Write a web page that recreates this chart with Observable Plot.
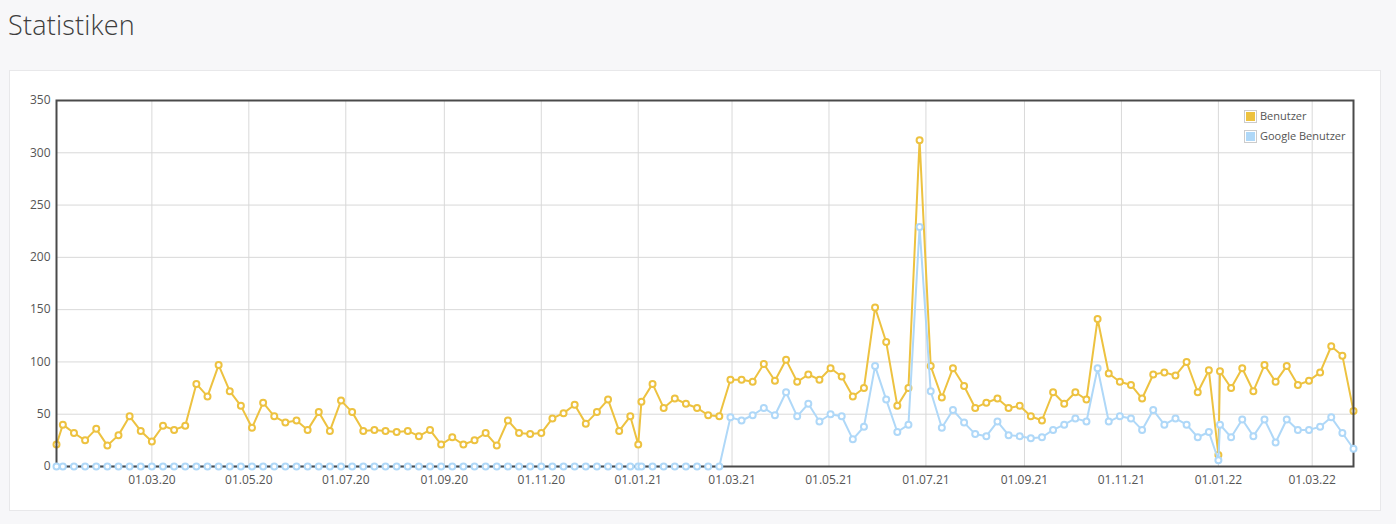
<!DOCTYPE html>
<html><head><meta charset="utf-8">
<script src="https://cdn.jsdelivr.net/npm/d3@7"></script>
<script src="https://cdn.jsdelivr.net/npm/@observablehq/plot@0.6"></script>
<style>
html,body{margin:0;padding:0}
body{background:#f7f7f9;font-family:"Open Sans",sans-serif;width:1396px;height:524px;overflow:hidden;position:relative}
#title{position:absolute;left:8px;top:6px;font-size:27px;font-weight:300;color:#3d3d3d;letter-spacing:0.2px}
#card{position:absolute;left:9px;top:70px;width:1372px;height:441px;background:#fff;border:1px solid #e8e8ea;box-sizing:border-box}
#chart{position:absolute;left:0;top:70px}
.lg{position:absolute;left:1244px;font-size:11px;color:#545454;line-height:14px;display:flex;align-items:center}
.lg .sw{display:inline-block;width:9px;height:9px;border:1px solid #ccc;padding:1px;margin-right:3px}
.lg .sw i{display:block;width:9px;height:9px}
</style></head>
<body>
<div id="title">Statistiken</div>
<div id="card"></div>
<div id="chart"></div>
<div class="lg" style="top:109px"><span class="sw"><i style="background:#edc240"></i></span>Benutzer</div>
<div class="lg" style="top:129px"><span class="sw"><i style="background:#afd8f8"></i></span>Google Benutzer</div>
<script>
const dates = [
"2020-01-01","2020-01-05","2020-01-12","2020-01-19","2020-01-26","2020-02-02","2020-02-09","2020-02-16","2020-02-23","2020-03-01",
"2020-03-08","2020-03-15","2020-03-22","2020-03-29","2020-04-05","2020-04-12","2020-04-19","2020-04-26","2020-05-03","2020-05-10",
"2020-05-17","2020-05-24","2020-05-31","2020-06-07","2020-06-14","2020-06-21","2020-06-28","2020-07-05","2020-07-12","2020-07-19",
"2020-07-26","2020-08-02","2020-08-09","2020-08-16","2020-08-23","2020-08-30","2020-09-06","2020-09-13","2020-09-20","2020-09-27",
"2020-10-04","2020-10-11","2020-10-18","2020-10-25","2020-11-01","2020-11-08","2020-11-15","2020-11-22","2020-11-29","2020-12-06",
"2020-12-13","2020-12-20","2020-12-27",
"2021-01-01","2021-01-03","2021-01-10","2021-01-17","2021-01-24","2021-01-31","2021-02-07","2021-02-14","2021-02-21","2021-02-28",
"2021-03-07","2021-03-14","2021-03-21","2021-03-28","2021-04-04","2021-04-11","2021-04-18","2021-04-25","2021-05-02","2021-05-09",
"2021-05-16","2021-05-23","2021-05-30","2021-06-06","2021-06-13","2021-06-20","2021-06-27","2021-07-04","2021-07-11","2021-07-18",
"2021-07-25","2021-08-01","2021-08-08","2021-08-15","2021-08-22","2021-08-29","2021-09-05","2021-09-12","2021-09-19","2021-09-26",
"2021-10-03","2021-10-10","2021-10-17","2021-10-24","2021-10-31","2021-11-07","2021-11-14","2021-11-21","2021-11-28","2021-12-05",
"2021-12-12","2021-12-19","2021-12-26",
"2022-01-01","2022-01-02","2022-01-09","2022-01-16","2022-01-23","2022-01-30","2022-02-06","2022-02-13","2022-02-20","2022-02-27",
"2022-03-06","2022-03-13","2022-03-20","2022-03-27"
];
const benutzer = [
21,40,32,25,36,20,30,48,34,24, 39,35,39,79,67,97,72,58,37,61, 48,42,44,35,52,34,63,52,34,35,
34,33,34,29,35,21,28,21,25,32, 20,44,32,31,32,46,51,59,41,52, 64,34,48,
21,62,79,56,65,60,56,49,48,83, 83,81,98,82,102,81,88,83,94,86, 67,75,152,119,58,75,312,96,66,94,
77,56,61,65,56,58,48,44,71,60, 71,64,141,89,81,78,65,88,90,87, 100,71,92,
11,91,75,94,72,97,81,96,78,82, 90,115,106,53
];
const googleBenutzer = [
0,0,0,0,0,0,0,0,0,0, 0,0,0,0,0,0,0,0,0,0, 0,0,0,0,0,0,0,0,0,0,
0,0,0,0,0,0,0,0,0,0, 0,0,0,0,0,0,0,0,0,0, 0,0,0,
0,0,0,0,0,0,0,0,0,47, 44,49,56,49,71,48,60,43,50,48, 26,38,96,64,33,40,229,72,37,54,
42,31,29,43,30,29,27,28,35,40, 46,43,94,43,48,46,35,54,40,46, 40,28,33,
6,40,28,45,29,45,23,45,35,35, 38,47,32,17
];
const xTickDates = ["2020-03-01","2020-05-01","2020-07-01","2020-09-01","2020-11-01","2021-01-01","2021-03-01","2021-05-01","2021-07-01","2021-09-01","2021-11-01","2022-01-01","2022-03-01"];
const yTicks = [0,50,100,150,200,250,300,350];
const seriesNames = ["Benutzer","Google Benutzer"];
const colors = ["#edc240","#afd8f8"];

const parse = s => new Date(s + "T00:00:00Z");
const data = dates.map((d,i) => ({date: parse(d), b: benutzer[i], g: googleBenutzer[i]}));
const xt = xTickDates.map(parse);

const chart = Plot.plot({
  width: 1396, height: 454,
  marginLeft: 56, marginRight: 43, marginTop: 30, marginBottom: 58,
  style: {fontFamily: "'Open Sans', sans-serif", fontSize: "12px", color: "#555", background: "transparent", overflow: "visible"},
  x: {type: "utc", domain: [data[0].date, data[data.length-1].date], ticks: xt, tickFormat: d3.utcFormat("%d.%m.%y"), tickSize: 0, tickPadding: 9, label: null},
  y: {domain: [0, 350], ticks: yTicks, tickSize: 0, tickPadding: 6, label: null},
  marks: [
    Plot.ruleX(xt, {stroke: "#d9d9d9", strokeWidth: 1}),
    Plot.ruleY(yTicks, {stroke: "#d9d9d9", strokeWidth: 1}),
    Plot.line(data, {x: "date", y: "b", stroke: colors[0], strokeWidth: 2}),
    Plot.dot(data, {x: "date", y: "b", r: 3, fill: "white", stroke: colors[0], strokeWidth: 2}),
    Plot.line(data, {x: "date", y: "g", stroke: colors[1], strokeWidth: 2}),
    Plot.frame({stroke: "#4a4a4a", strokeWidth: 2}),
    Plot.dot(data, {x: "date", y: "g", r: 3, fill: "white", stroke: colors[1], strokeWidth: 2})
  ]
});
document.getElementById("chart").appendChild(chart);
</script>
</body></html>
